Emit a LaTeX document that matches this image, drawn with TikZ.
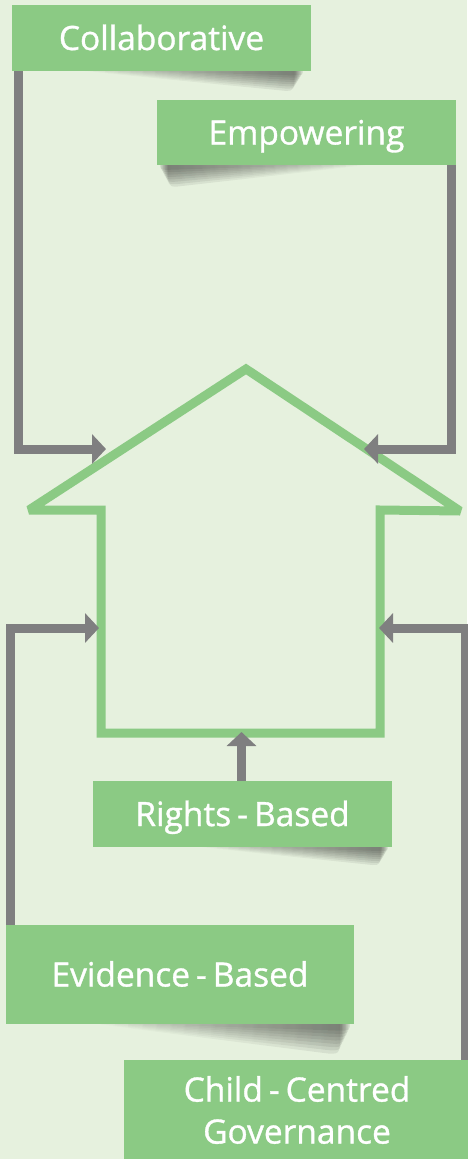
\documentclass[tikz,border=0pt]{standalone}
\usepackage{fontspec}
\setmainfont{Open Sans}[FakeBold=1]
\usetikzlibrary{arrows.meta,fadings}

\definecolor{bg}{RGB}{230,241,222}
\definecolor{leaf}{RGB}{139,202,132}
\definecolor{steel}{RGB}{127,127,128}

% soft shadow fadings: dark towards the thick end
\tikzfading[name=shadeR, left color=transparent!100, middle color=transparent!60, right color=transparent!0]
\tikzfading[name=shadeL, left color=transparent!0, middle color=transparent!60, right color=transparent!100]

% wedge-shaped drop shadow under a box: thin end at xa, thick end at xb,
% box bottom y0, depth d; stacked layers give a soft edge
\newcommand\boxshade[5]{%
  \foreach \k in {0.2,0.3,...,1.0} {
    \fill[black, opacity=0.075, path fading=#5]
      ({#1},{#3-2}) -- ({#2-(\k-0.2)*0.05*(#2-#1)},{#3-2})
      .. controls ({#2-(\k-0.2)*0.05*(#2-#1)},{#3+#4*\k}) .. ({#2-(\k-0.2)*0.05*(#2-#1)-0.04*(#2-#1)},{#3+#4*\k})
      -- cycle;
  }}

\begin{document}
\begin{tikzpicture}[x=1pt, y=-1pt,
  box/.style={rectangle, fill=leaf, text=white, inner sep=0pt, align=center,
    font=\fontsize{33.5}{42}\selectfont},
  oneline/.style={text height=24pt, text depth=0pt},
  conn/.style={draw=steel, line width=9pt, line join=miter,
    -{Triangle[length=14pt, width=29pt]}},
  house/.style={draw=leaf, line width=9pt, line join=miter, miter limit=3}]

\useasboundingbox (0,0) rectangle (467,1159);
\fill[bg] (0,0) rectangle (467,1159);

% shadows under the labels
\boxshade{62}{303}{71}{22}{shadeR}
\boxshade{385}{160}{165}{24}{shadeL}
\boxshade{180}{388}{847}{20}{shadeR}
\boxshade{80}{350}{1024}{33}{shadeR}

% the upward arrow outline
\draw[house] (246,369) -- (460,511) -- (380,510) -- (380,733) -- (101,733)
  -- (101,510) -- (29,510) -- cycle;

% labels
\node[box, oneline, minimum width=299pt, minimum height=66pt] (collab) at (161.5,38) {Collaborative};
\node[box, oneline, minimum width=299pt, minimum height=65pt] (empower) at (306.5,132.5) {Empowering};
\node[box, oneline, minimum width=299pt, minimum height=66pt] (rights) at (242.5,814) {Rights\kern6pt-\kern6pt Based};
\node[box, oneline, minimum width=348pt, minimum height=99pt] (evid) at (180,974.5) {Evidence\kern6pt-\kern6pt Based};
\node[box, minimum width=346pt, minimum height=100pt] (child) at (297,1110) {Child\kern6pt-\kern6pt Centred\\Governance};

% arrow tips on the outline
\coordinate (tipC) at (106,449);
\coordinate (tipE) at (364,449);
\coordinate (tipR) at (241.5,732);
\coordinate (tipV) at (99,628);
\coordinate (tipG) at (379,628);

% connectors
\draw[conn] ([xshift=6.5pt]collab.south west) |- (tipC);
\draw[conn] ([xshift=-5pt]empower.south east) |- (tipE);
\draw[conn] (rights.north -| tipR) -- (tipR);
\draw[conn] ([xshift=5pt]evid.north west) |- (tipV);
\draw[conn] ([xshift=-4.5pt]child.north east) |- (tipG);
\end{tikzpicture}
\end{document}
